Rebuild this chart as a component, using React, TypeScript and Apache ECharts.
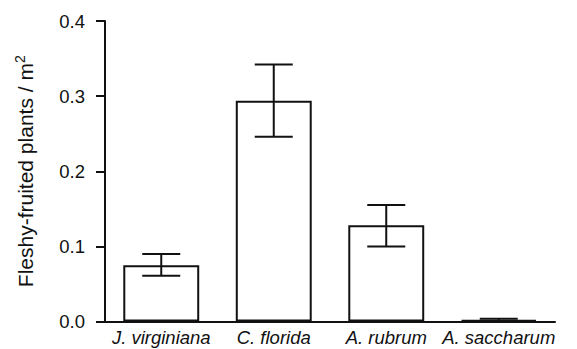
import React, { useEffect, useRef } from "react";
import * as echarts from "echarts";

const categories = ["J. virginiana", "C. florida", "A. rubrum", "A. saccharum"];
const means = [0.075, 0.294, 0.128, 0.002];
const lowerErr = [0.061, 0.246, 0.1, 0.0005];
const upperErr = [0.09, 0.342, 0.155, 0.0035];
const yTicks = [0, 0.1, 0.2, 0.3, 0.4];

const FONT = "Liberation Sans, Arial, Helvetica, sans-serif";

export default function App() {
  const ref = useRef<HTMLDivElement>(null);
  useEffect(() => {
    const chart = echarts.init(ref.current!, null, { renderer: "svg" });
    const errData = categories.map((_, i) => [i, lowerErr[i], upperErr[i]]);
    chart.setOption({
      animation: false,
      grid: { left: 105, right: 22, top: 21, bottom: 27.5, containLabel: false },
      xAxis: {
        type: "category",
        data: categories,
        axisLine: { lineStyle: { color: "#111", width: 2 } },
        axisTick: { show: false },
        axisLabel: {
          color: "#111",
          fontStyle: "italic",
          fontFamily: FONT,
          fontSize: 18.5,
          margin: 6,
          interval: 0,
        },
      },
      yAxis: {
        type: "value",
        min: 0,
        max: 0.4,
        interval: 0.1,
        splitLine: { show: false },
        axisLine: { show: true, lineStyle: { color: "#111", width: 2 } },
        axisTick: { show: true, length: 9, lineStyle: { color: "#111", width: 2 } },
        axisLabel: {
          color: "#111",
          fontFamily: FONT,
          fontSize: 18.5,
          margin: 20,
          formatter: (v: number) => {
            const t = yTicks.find((x) => Math.abs(x - v) < 1e-9);
            return (t !== undefined ? t : v).toFixed(1);
          },
        },
        name: "Fleshy-fruited plants / m{sup|2}",
        nameLocation: "middle",
        nameGap: 68,
        nameTextStyle: {
          color: "#111",
          fontFamily: FONT,
          fontSize: 21,
          lineHeight: 24,
          rich: {
            sup: {
              color: "#111",
              fontFamily: FONT,
              fontSize: 14,
              lineHeight: 14,
              verticalAlign: "top",
            },
          },
        },
      },
      series: [
        {
          type: "bar",
          data: means,
          barWidth: "67.5%",
          itemStyle: { color: "#fff", borderColor: "#111", borderWidth: 2 },
          z: 2,
        },
        {
          type: "custom",
          data: errData,
          z: 3,
          renderItem: (params: any, api: any) => {
            const x = api.value(0);
            const lo = api.coord([x, api.value(1)]);
            const hi = api.coord([x, api.value(2)]);
            const half = 19;
            const style = { stroke: "#111", lineWidth: 2 };
            return {
              type: "group",
              children: [
                { type: "line", shape: { x1: lo[0], y1: lo[1], x2: hi[0], y2: hi[1] }, style },
                { type: "line", shape: { x1: lo[0] - half, y1: lo[1], x2: lo[0] + half, y2: lo[1] }, style },
                { type: "line", shape: { x1: hi[0] - half, y1: hi[1], x2: hi[0] + half, y2: hi[1] }, style },
              ],
            };
          },
        },
      ],
    });
    return () => chart.dispose();
  }, []);
  return <div ref={ref} style={{ width: 577, height: 349, position: "absolute", left: 0, top: 0 }} />;
}
